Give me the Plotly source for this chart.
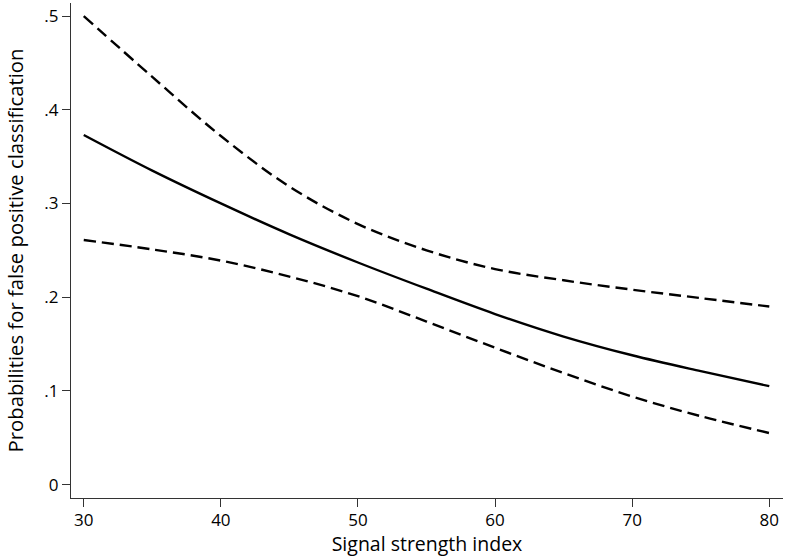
import plotly.graph_objects as go

signal = [30, 35, 40, 45, 50, 55, 60, 65, 70, 75, 80]
prob = [0.373, 0.335, 0.300, 0.267, 0.237, 0.209, 0.182, 0.158, 0.138, 0.121, 0.105]
upper = [0.500, 0.435, 0.372, 0.318, 0.278, 0.250, 0.230, 0.218, 0.208, 0.199, 0.190]
lower = [0.261, 0.251, 0.239, 0.222, 0.201, 0.174, 0.146, 0.119, 0.094, 0.073, 0.055]

x_ticks = [30, 40, 50, 60, 70, 80]
y_ticks = [0, 0.1, 0.2, 0.3, 0.4, 0.5]
y_ticktext = ["0", ".1", ".2", ".3", ".4", ".5"]

FONT = "Open Sans"

fig = go.Figure()
fig.add_trace(go.Scatter(x=signal, y=upper, mode="lines",
                         line=dict(color="black", width=2.4, dash="12px,6px", shape="spline", smoothing=1.0)))
fig.add_trace(go.Scatter(x=signal, y=lower, mode="lines",
                         line=dict(color="black", width=2.4, dash="12px,6px", shape="spline", smoothing=1.0)))
fig.add_trace(go.Scatter(x=signal, y=prob, mode="lines",
                         line=dict(color="black", width=2.4, shape="spline", smoothing=1.0)))

axis_common = dict(showline=True, linecolor="#333333", linewidth=1.3,
                   ticks="outside", ticklen=8, tickwidth=1.3, tickcolor="#333333",
                   showgrid=False, zeroline=False, mirror=False, automargin=False,
                   tickfont=dict(family=FONT, size=17, color="black"))

fig.update_layout(
    width=785, height=557,
    margin=dict(l=71, r=2, t=3, b=59, autoexpand=False),
    plot_bgcolor="white", paper_bgcolor="white",
    showlegend=False,
    xaxis=dict(range=[29.07, 81.0], tickvals=x_ticks, ticklabelstandoff=-2,
               title=dict(text="Signal strength index", standoff=5,
                          font=dict(family=FONT, size=19.5, color="black")),
               **axis_common),
    yaxis=dict(range=[-0.0143, 0.5139], tickvals=y_ticks, ticktext=y_ticktext,
               title=dict(text="Probabilities for false positive classification", standoff=15,
                          font=dict(family=FONT, size=20.3, color="black")),
               **axis_common),
)

fig.write_html("out.html", config={"displayModeBar": False},
               post_script="document.body.style.margin='0';document.body.style.padding='0';")
